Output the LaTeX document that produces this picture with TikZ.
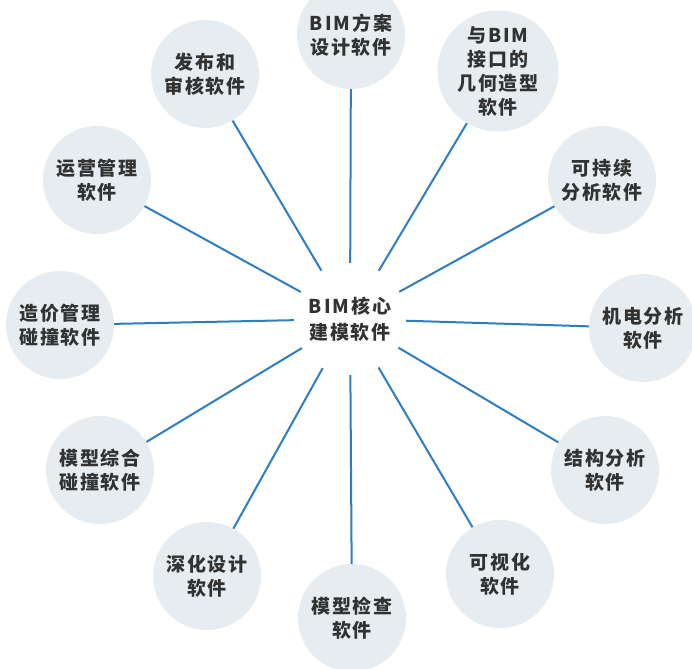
\documentclass[tikz,border=0pt]{standalone}
\usepackage{fontspec}
\setmainfont{Noto Sans CJK SC}[LetterSpace=10]
\usepackage{tikz}
\usetikzlibrary{positioning}

\definecolor{linkblue}{RGB}{45,125,195}
\definecolor{bubble}{RGB}{230,236,240}
\definecolor{txtgray}{RGB}{50,50,50}

\begin{document}
\begin{tikzpicture}[
    x=1pt, y=-1pt,
    hub/.style={circle, minimum size=112pt, inner sep=0pt, align=center, text=txtgray, font=\fontsize{19}{26}\selectfont\bfseries},
    soft/.style={circle, fill=bubble, minimum size=108pt, inner sep=0pt, align=center, text=txtgray, font=\fontsize{19}{24}\selectfont\bfseries},
    link/.style={draw=linkblue, line width=2pt}
]
    \useasboundingbox (0,0) rectangle (692,668);

    \node[hub] (core) at (350,319) {BIM核心\\建模软件};

    \node[soft] (scheme) at (351,35) {BIM方案\\设计软件};
    \node[soft] (geom) at (498,71) {与BIM\\接口的\\几何造型\\软件};
    \node[soft] (sustain) at (602,180) {可持续\\分析软件};
    \node[soft] (mep) at (643,328) {机电分析\\软件};
    \node[soft] (struct) at (605,470) {结构分析\\软件};
    \node[soft] (visual) at (500,574) {可视化\\软件};
    \node[soft] (check) at (352,618) {模型检查\\软件};
    \node[soft] (detail) at (207,576) {深化设计\\软件};
    \node[soft] (clash) at (100,470) {模型综合\\碰撞软件};
    \node[soft] (cost) at (60,325) {造价管理\\碰撞软件};
    \node[soft] (operate) at (97,180) {运营管理\\软件};
    \node[soft] (publish) at (205,74) {发布和\\审核软件};

    \foreach \n in {scheme,geom,sustain,mep,struct,visual,check,detail,clash,cost,operate,publish}
        \draw[link] (core) -- (\n);
\end{tikzpicture}
\end{document}
